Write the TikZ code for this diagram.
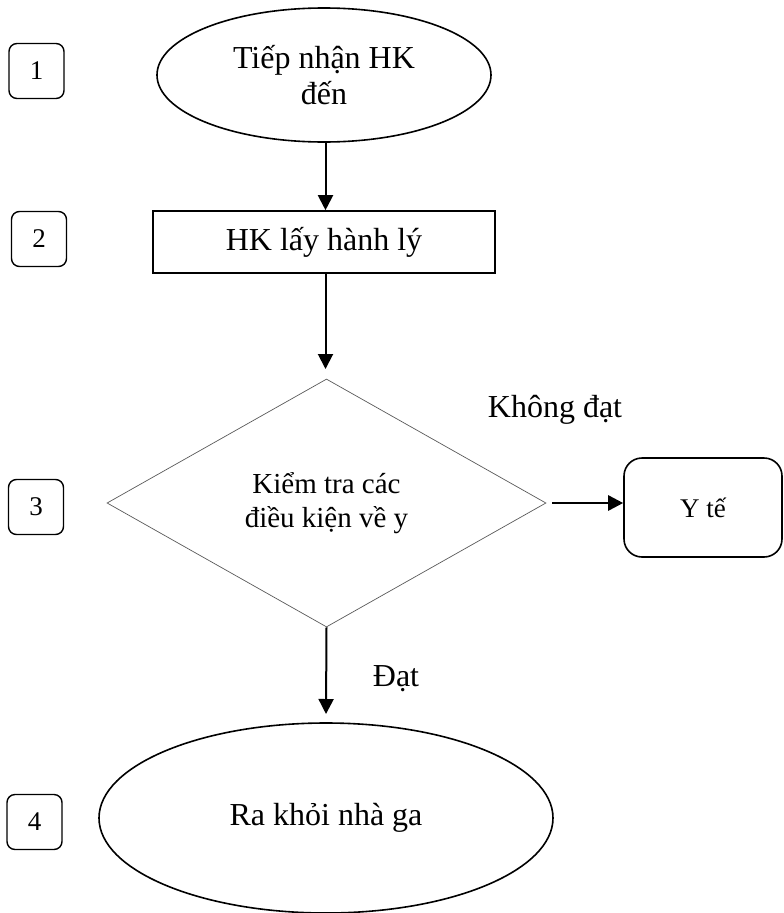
\documentclass[tikz,border=0pt]{standalone}
\usepackage{fontspec}
\setmainfont{Liberation Serif}
\usetikzlibrary{shapes.geometric,arrows.meta}
\tikzset{
  numbox/.style={draw=black, line width=1.4pt, rounded corners=8pt, minimum width=55pt, minimum height=55pt, inner sep=0pt, font=\fontsize{27}{30}\selectfont},
  oval/.style={draw=black, line width=1.6pt, ellipse, inner sep=0pt, align=center, font=\fontsize{32}{36}\selectfont},
  procbox/.style={draw=black, line width=1.6pt, rectangle, inner sep=0pt, font=\fontsize{32}{36}\selectfont},
  decision/.style={draw=black!65, line width=0.7pt, diamond, inner sep=0pt, align=center, font=\fontsize{29}{34}\selectfont},
  termbox/.style={draw=black, line width=1.6pt, rounded corners=18pt, inner sep=0pt, font=\fontsize{27}{30}\selectfont},
  lbl/.style={inner sep=0pt, font=\fontsize{32}{36}\selectfont},
  flow/.style={draw=black, line width=2pt, -{Triangle[width=15pt,length=15pt]}}
}
\begin{document}
\begin{tikzpicture}[x=1pt,y=-1pt]
\useasboundingbox (0,0) rectangle (784,913);
% step numbers
\node[numbox] (n1) at (36.5,71) {1};
\node[numbox] (n2) at (39,239) {2};
\node[numbox] (n3) at (36,507) {3};
\node[numbox] (n4) at (34.5,822) {4};
% main flow
\node[oval, minimum width=334pt, minimum height=134pt] (start) at (324,75) {Tiếp nhận HK\\đến};
\node[procbox, minimum width=342pt, minimum height=62pt] (take) at (324,242) {HK lấy hành lý};
\node[decision, minimum width=439pt, minimum height=248pt] (check) at (326.5,503) {Kiểm tra các\\điều kiện về y};
\node[termbox, minimum width=158pt, minimum height=99pt] (med) at (703,507.5) {Y tế};
\node[oval, minimum width=454pt, minimum height=190pt] (exit) at (326,818) {Ra khỏi nhà ga};
% labels
\node[lbl] (fail) at (555,410) {Không đạt};
\node[lbl] (pass) at (396,679) {Đạt};
% connector ends
\coordinate (c2) at (325.5,369);
\coordinate (c3s) at (552,503);
\coordinate (c4) at (326,714);
% connectors
\draw[flow] (start.south -| 325.5,0) -- (take.north -| 325.5,0);
\draw[flow] (take.south -| 325.5,0) -- (c2);
\draw[flow, line width=2.6pt] (c3s) -- (c3s -| med.west);
\draw[flow] (check.south) -- (c4);
\end{tikzpicture}
\end{document}
